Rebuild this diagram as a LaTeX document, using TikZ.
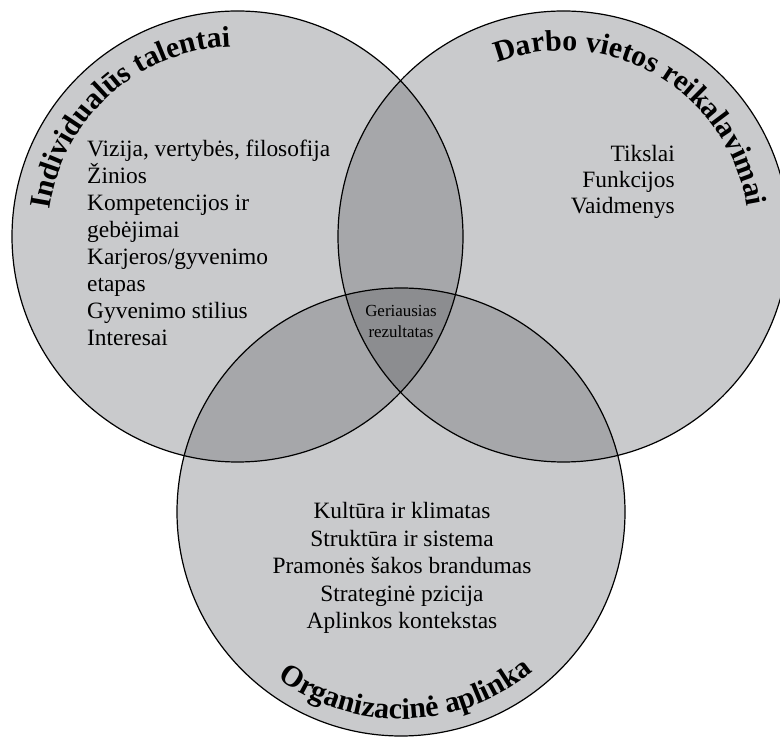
\documentclass[tikz,border=0pt]{standalone}
\usepackage{fontspec}
\setmainfont{Liberation Serif}
\usetikzlibrary{decorations.text,calc}
\definecolor{onec}{HTML}{C9CACC}
\definecolor{twoc}{HTML}{A6A7AA}
\definecolor{threec}{HTML}{8C8D90}
\newcommand{\headfnt}{\bfseries\fontsize{30}{30}\selectfont}
\tikzset{
  body/.style={font=\fontsize{23.5}{27}\selectfont, inner sep=0pt, text=black},
  small/.style={font=\fontsize{17}{20}\selectfont, inner sep=0pt, text=black},
  ring/.style={draw=black, line width=1.2bp},
}
\begin{document}
\begin{tikzpicture}[x=1bp,y=1bp]
\useasboundingbox (0,0) rectangle (780,740);
\clip (0,0) rectangle (780,740);
\coordinate (L) at (237.5,503.5);
\coordinate (R) at (563.5,503.5);
\coordinate (B) at (401,228);
% single regions
\fill[onec] (L) circle[radius=225.5bp];
\fill[onec] (R) circle[radius=225.5bp];
\fill[onec] (B) circle[radius=224bp];
% pairwise
\begin{scope}
  \clip (L) circle[radius=225.5bp];
  \fill[twoc] (R) circle[radius=225.5bp];
  \fill[twoc] (B) circle[radius=224bp];
\end{scope}
\begin{scope}
  \clip (R) circle[radius=225.5bp];
  \fill[twoc] (B) circle[radius=224bp];
\end{scope}
% triple
\begin{scope}
  \clip (L) circle[radius=225.5bp];
  \clip (R) circle[radius=225.5bp];
  \fill[threec] (B) circle[radius=224bp];
\end{scope}
% outlines
\draw[ring] (L) circle[radius=225.5bp];
\draw[ring] (R) circle[radius=225.5bp];
\draw[ring] (B) circle[radius=224bp];
% headings along arcs
\path[decorate, decoration={text along path, text align=center,
  text={|\headfnt|Individualūs talentai}}]
  ($(L)+(202:190bp)$) arc[start angle=202, end angle=62, radius=190bp];
\path[decorate, decoration={text along path, text align=center,
  text={|\headfnt|Darbo vietos reikalavimai}}]
  ($(R)+(130:186bp)$) arc[start angle=130, end angle=-10, radius=186bp];
\path[decorate, decoration={text along path, text align=center,
  text={|\headfnt|Organizacinė aplinka}}]
  ($(B)+(215:207bp)$) arc[start angle=215, end angle=328, radius=207bp];
% left text
\node[body, anchor=base west] (l1) at (87,583) {Vizija, vertybės, filosofija};
\node[body, anchor=base west] (l2) at (87,556) {Žinios};
\node[body, anchor=base west] (l3) at (87,529) {Kompetencijos ir};
\node[body, anchor=base west] (l4) at (87,502) {gebėjimai};
\node[body, anchor=base west] (l5) at (87,475) {Karjeros/gyvenimo};
\node[body, anchor=base west] (l6) at (87,448) {etapas};
\node[body, anchor=base west] (l7) at (87,421) {Gyvenimo stilius};
\node[body, anchor=base west] (l8) at (87,394) {Interesai};
% right text
\node[body, anchor=base east] (r1) at (675,578) {Tikslai};
\node[body, anchor=base east] (r2) at (675,552) {Funkcijos};
\node[body, anchor=base east] (r3) at (675,526) {Vaidmenys};
% bottom text
\node[body, anchor=base] (b1) at (402,221) {Kultūra ir klimatas};
\node[body, anchor=base] (b2) at (402,193) {Struktūra ir sistema};
\node[body, anchor=base] (b3) at (402,166) {Pramonės šakos brandumas};
\node[body, anchor=base] (b4) at (402,138) {Strateginė pzicija};
\node[body, anchor=base] (b5) at (402,111) {Aplinkos kontekstas};
% centre
\node[small, anchor=base] (c1) at (401,423) {Geriausias};
\node[small, anchor=base] (c2) at (401,402) {rezultatas};
\end{tikzpicture}
\end{document}
